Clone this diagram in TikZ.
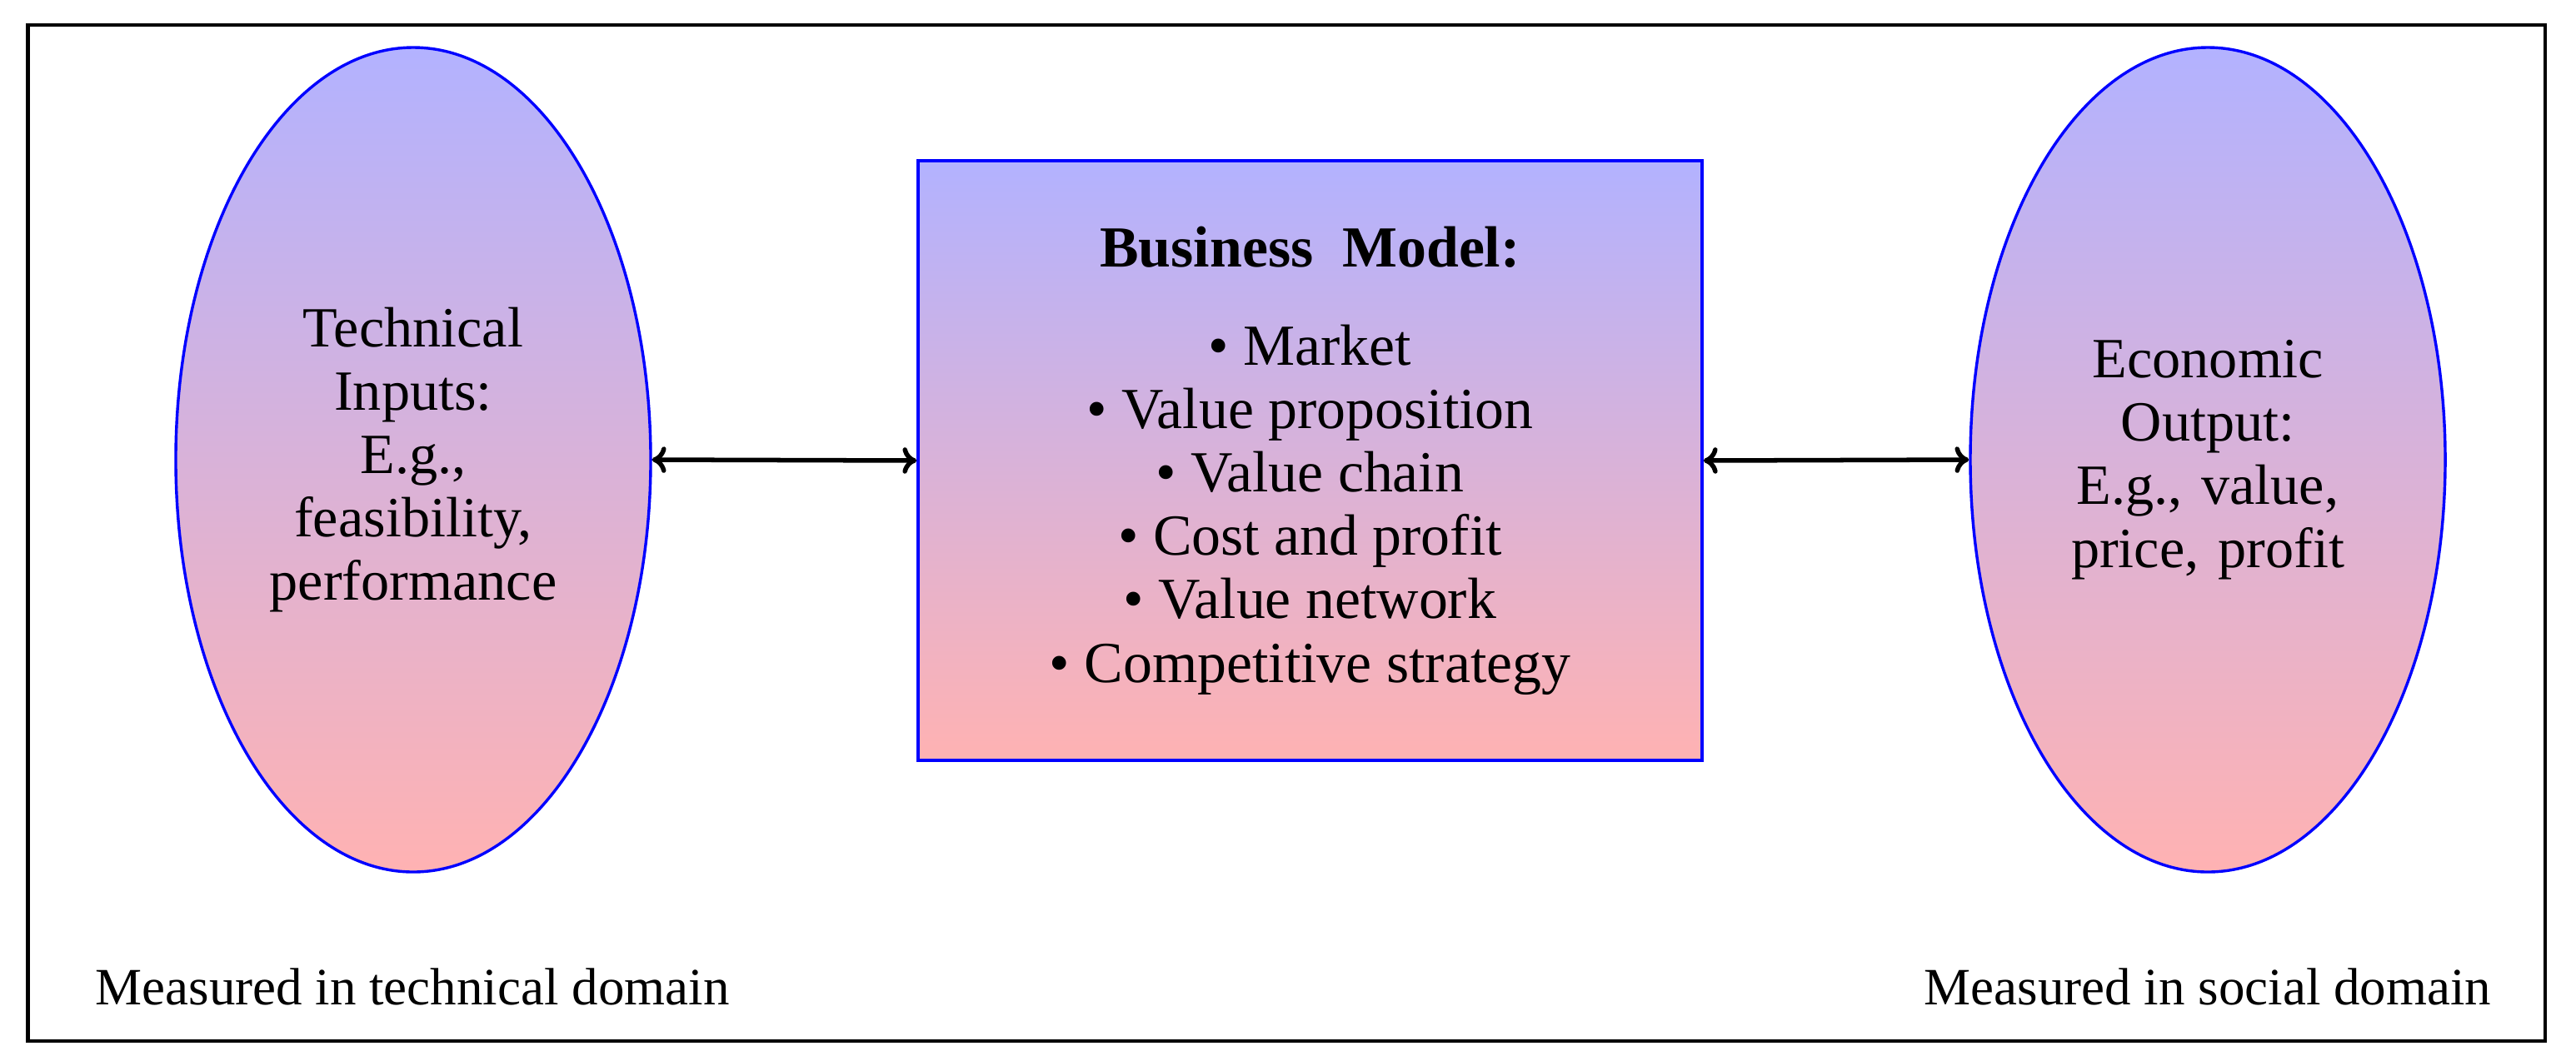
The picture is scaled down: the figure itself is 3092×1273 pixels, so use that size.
\documentclass[tikz,border=0pt]{standalone}
\usepackage{fontspec}
\setmainfont{Liberation Serif}
\usetikzlibrary{shapes.geometric,arrows.meta}
\tikzset{
  shadedellipse/.style={ellipse, draw=blue, line width=0.65pt, top color=blue!30, bottom color=red!30,
    minimum width=108.6pt, minimum height=188.6pt, inner sep=0pt, align=center, text width=70pt,
    font=\fontsize{13}{14.5}\selectfont},
  bmbox/.style={rectangle, draw=blue, line width=0.65pt, top color=blue!30, bottom color=red!30,
    minimum width=179.3pt, minimum height=137.2pt, inner sep=0pt, align=center,
    font=\fontsize{13.3}{14.5}\selectfont},
  domainlabel/.style={font=\fontsize{12}{14}\selectfont, inner sep=0pt},
  biarrow/.style={{To[length=3.2pt,width=6pt]}-{To[length=3.2pt,width=6pt]}, line width=1.05pt},
  frame/.style={draw=black, line width=0.8pt}
}
\begin{document}
\begin{tikzpicture}[x=0.1905pt,y=-0.1905pt]
\useasboundingbox (0,0) rectangle (3092,1273);
\draw[frame] (33.5,30) rectangle (3055,1250);
\node[shadedellipse] (tech) at (496,552) {Technical\\Inputs:\\E.g.,\\feasibility,\\performance};
\node[shadedellipse] (econ) at (2650,552) {Economic\\Output:\\E.g., value,\\price, profit};
\node[bmbox] (bm) at (1572.5,553) {\textbf{Business\hspace{0.5em}Model:}\\[8pt]
\textbullet\ Market\\
\textbullet\ Value proposition\\
\textbullet\ Value chain\\
\textbullet\ Cost and profit\\
\textbullet\ Value network\\
\textbullet\ Competitive strategy};
\draw[biarrow] (tech.east) -- (bm.west);
\draw[biarrow] (bm.east) -- (econ.west);
\node[domainlabel] (ltech) at (495,1185) {Measured in technical domain};
\node[domainlabel] (lsoc) at (2650,1185) {Measured in social domain};
\end{tikzpicture}
\end{document}
